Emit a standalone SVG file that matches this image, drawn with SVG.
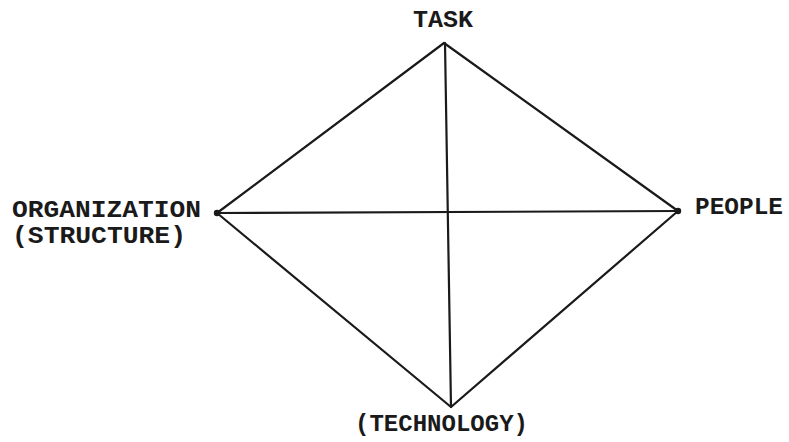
<svg xmlns="http://www.w3.org/2000/svg" width="789" height="442" viewBox="0 0 789 442">
<style>
.lbl{font-family:"Liberation Mono","DejaVu Sans Mono",monospace;font-weight:bold;font-size:24px;fill:#1a1a1a}
.ln{stroke:#1a1a1a;stroke-width:2.2;fill:none;stroke-linecap:round;stroke-linejoin:round}
.dot{fill:#1a1a1a}
</style>
<rect width="789" height="442" fill="#ffffff"/>
<g id="connectors">
<path class="ln" d="M444,43 L217,213 L451,407 L678,211 Z"/>
<line class="ln" x1="445" y1="43" x2="451" y2="407"/>
<line class="ln" x1="217" y1="213" x2="678" y2="211"/>
</g>
<g id="task">
<text class="lbl" x="443" y="27" text-anchor="middle" textLength="60" lengthAdjust="spacingAndGlyphs">TASK</text>
</g>
<g id="organization">
<circle class="dot" cx="217" cy="213" r="3.2"/>
<text class="lbl" x="12" y="217" textLength="189" lengthAdjust="spacingAndGlyphs">ORGANIZATION</text>
<text class="lbl" x="12" y="243" textLength="174" lengthAdjust="spacingAndGlyphs">(STRUCTURE)</text>
</g>
<g id="people">
<circle class="dot" cx="678" cy="211" r="3.2"/>
<text class="lbl" x="695" y="214" textLength="88" lengthAdjust="spacingAndGlyphs">PEOPLE</text>
</g>
<g id="technology">
<text class="lbl" x="355" y="431" textLength="173" lengthAdjust="spacingAndGlyphs">(TECHNOLOGY)</text>
</g>
</svg>
